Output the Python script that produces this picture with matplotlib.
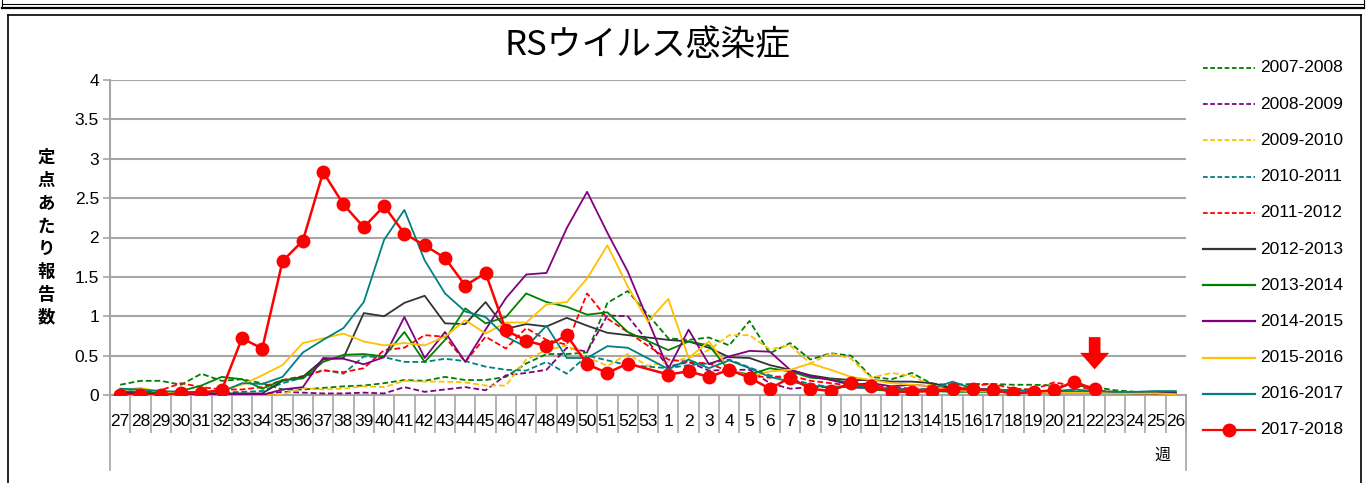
import numpy as np
import matplotlib
matplotlib.use("Agg")
import matplotlib.pyplot as plt
from matplotlib.lines import Line2D

plt.rcParams['font.family'] = ['Liberation Sans', 'Noto Sans CJK JP']

nan = np.nan
week_labels = ['27', '28', '29', '30', '31', '32', '33', '34', '35', '36', '37', '38', '39',
               '40', '41', '42', '43', '44', '45', '46', '47', '48', '49', '50', '51', '52', '53',
               '1', '2', '3', '4', '5', '6', '7', '8', '9', '10', '11', '12', '13', '14', '15',
               '16', '17', '18', '19', '20', '21', '22', '23', '24', '25', '26']

s2007 = [0.13, 0.18, 0.18, 0.13, 0.27, 0.18, 0.20, 0.15, 0.07, 0.07, 0.09, 0.11, 0.12, 0.15,
         0.19, 0.18, 0.23, 0.19, 0.19, 0.23, 0.40, 0.52, 0.52, 0.54, 1.17, 1.32, nan,
         0.72, 0.70, 0.73, 0.63, 0.94, 0.53, 0.66, 0.45, 0.53, 0.50, 0.23, 0.20, 0.28, 0.14,
         0.13, 0.14, 0.14, 0.13, 0.13, 0.12, 0.12, 0.10, 0.06, 0.04, 0.03, 0.03]
s2008 = [0.02, 0.02, 0.01, 0.01, 0.01, 0.01, 0.01, 0.01, 0.04, 0.03, 0.02, 0.02, 0.03, 0.02,
         0.10, 0.04, 0.07, 0.10, 0.06, 0.25, 0.28, 0.32, 0.60, 0.55, 1.01, 1.00, nan,
         0.36, 0.42, 0.31, 0.32, 0.32, 0.15, 0.08, 0.10, 0.10, 0.10, 0.08, 0.08, 0.07, 0.07,
         0.06, 0.07, 0.06, 0.05, 0.05, 0.05, 0.04, 0.04, 0.03, 0.02, 0.02, 0.02]
s2009 = [0.02, 0.02, 0.01, 0.01, 0.01, 0.01, 0.01, 0.00, 0.01, 0.09, 0.07, 0.08, 0.11, 0.10,
         0.18, 0.17, 0.17, 0.16, 0.12, 0.12, 0.45, 0.57, 0.63, 0.48, 0.37, 0.52, 0.37,
         0.42, 0.47, 0.57, 0.76, 0.76, 0.58, 0.63, 0.40, 0.53, 0.46, 0.22, 0.28, 0.24, 0.12,
         0.09, 0.07, 0.06, 0.05, 0.05, 0.05, 0.04, 0.04, 0.03, 0.02, 0.02, 0.01]
s2010 = [0.05, 0.04, 0.03, 0.03, 0.03, 0.03, 0.04, 0.05, 0.15, 0.22, 0.32, 0.27, 0.49, 0.48,
         0.42, 0.42, 0.46, 0.43, 0.36, 0.32, 0.31, 0.42, 0.27, 0.50, 0.44, 0.38, nan,
         0.34, 0.38, 0.40, 0.45, 0.35, 0.25, 0.20, 0.14, 0.10, 0.10, 0.08, 0.07, 0.06, 0.06,
         0.06, 0.06, 0.05, 0.05, 0.05, 0.05, 0.05, 0.04, 0.04, 0.04, 0.04, 0.04]
s2011 = [0.03, 0.03, 0.06, 0.15, 0.10, 0.07, 0.07, 0.10, 0.19, 0.24, 0.31, 0.29, 0.34, 0.57,
         0.60, 0.76, 0.74, 0.42, 0.74, 0.59, 0.85, 0.70, 0.64, 1.29, 0.97, 0.80, nan,
         0.45, 0.42, 0.40, 0.30, 0.25, 0.22, 0.25, 0.18, 0.15, 0.12, 0.12, 0.10, 0.08, 0.07,
         0.08, 0.12, 0.14, 0.08, 0.07, 0.16, 0.12, 0.06, 0.04, 0.03, 0.02, 0.02]
s2012 = [0.03, 0.03, 0.02, 0.02, 0.02, 0.02, 0.02, 0.02, 0.18, 0.23, 0.45, 0.47, 1.04, 1.00,
         1.17, 1.26, 0.91, 0.90, 1.18, 0.84, 0.90, 0.87, 0.98, 0.88, 0.79, 0.76, nan,
         0.70, 0.68, 0.60, 0.48, 0.47, 0.38, 0.32, 0.25, 0.21, 0.19, 0.19, 0.17, 0.17, 0.15,
         0.09, 0.08, 0.07, 0.06, 0.05, 0.05, 0.04, 0.04, 0.03, 0.03, 0.03, 0.03]
s2013 = [0.05, 0.04, 0.03, 0.05, 0.12, 0.23, 0.20, 0.08, 0.19, 0.21, 0.42, 0.51, 0.52, 0.49,
         0.80, 0.42, 0.70, 1.10, 0.91, 0.99, 1.29, 1.18, 1.12, 1.02, 1.05, 0.80, nan,
         0.57, 0.68, 0.63, 0.31, 0.26, 0.34, 0.30, 0.22, 0.20, 0.15, 0.07, 0.05, 0.05, 0.05,
         0.04, 0.04, 0.04, 0.03, 0.03, 0.03, 0.03, 0.03, 0.02, 0.02, 0.02, 0.02]
s2014 = [0.02, 0.02, 0.01, 0.01, 0.01, 0.01, 0.01, 0.00, 0.07, 0.10, 0.47, 0.46, 0.39, 0.48,
         0.99, 0.47, 0.80, 0.42, 0.83, 1.23, 1.53, 1.55, 2.12, 2.58, 2.06, 1.57, nan,
         0.33, 0.83, 0.39, 0.49, 0.56, 0.55, 0.32, 0.24, 0.19, 0.13, 0.15, 0.11, 0.13, 0.11,
         0.08, 0.07, 0.07, 0.05, 0.05, 0.04, 0.04, 0.03, 0.03, 0.02, 0.02, 0.02]
s2015 = [0.06, 0.09, 0.04, 0.03, 0.04, 0.06, 0.13, 0.25, 0.38, 0.66, 0.72, 0.78, 0.68, 0.63,
         0.66, 0.63, 0.74, 0.95, 0.78, 0.92, 0.92, 1.15, 1.18, 1.48, 1.90, 1.38, 0.93,
         1.22, 0.47, 0.68, 0.33, 0.23, 0.30, 0.32, 0.40, 0.32, 0.23, 0.19, 0.15, 0.13, 0.11,
         0.06, 0.05, 0.05, 0.04, 0.04, 0.03, 0.03, 0.03, 0.02, 0.02, 0.02, 0.01]
s2016 = [0.08, 0.07, 0.05, 0.04, 0.04, 0.04, 0.15, 0.14, 0.23, 0.54, 0.70, 0.85, 1.18, 1.97,
         2.35, 1.71, 1.29, 1.06, 0.99, 0.74, 0.61, 0.88, 0.47, 0.47, 0.62, 0.60, nan,
         0.33, 0.45, 0.34, 0.44, 0.34, 0.23, 0.17, 0.12, 0.10, 0.12, 0.10, 0.08, 0.06, 0.08,
         0.17, 0.08, 0.07, 0.06, 0.05, 0.05, 0.07, 0.05, 0.04, 0.04, 0.05, 0.05]
s2017 = [0.00, 0.00, 0.00, 0.02, 0.03, 0.06, 0.72, 0.59, 1.70, 1.96, 2.83, 2.42, 2.13, 2.40,
         2.05, 1.90, 1.74, 1.39, 1.55, 0.82, 0.69, 0.62, 0.76, 0.39, 0.28, 0.40, nan,
         0.26, 0.30, 0.23, 0.32, 0.22, 0.08, 0.22, 0.08, 0.05, 0.15, 0.11, 0.04, 0.04, 0.05,
         0.08, 0.07, 0.06, 0.02, 0.04, 0.06, 0.17, 0.07, nan, nan, nan, nan]

season_labels = ['2007-2008', '2008-2009', '2009-2010', '2010-2011', '2011-2012', '2012-2013',
                 '2013-2014', '2014-2015', '2015-2016', '2016-2017', '2017-2018']
series = [s2007, s2008, s2009, s2010, s2011, s2012, s2013, s2014, s2015, s2016, s2017]
colors = ['#008000', '#800080', '#FFC000', '#008080', '#FF0000', '#333333',
          '#008000', '#800080', '#FFC000', '#008080', '#FF0000']
dashed = [True] * 5 + [False] * 6
current_week_label = '22'

W, H = 1367, 483
fig = plt.figure(figsize=(W / 100, H / 100), dpi=100)

def fx(px):
    return px / W

def fy(py):
    return 1 - py / H

ax = fig.add_axes([fx(110), fy(395), fx(1186) - fx(110), fy(80) - fy(395)])
x = np.arange(len(week_labels))
grid_c = '#a6a6a6'

for lab, vals, col, dsh in zip(season_labels, series, colors, dashed):
    y = np.array(vals, dtype=float)
    m = ~np.isnan(y)
    if lab == '2017-2018':
        ax.plot(x[m], y[m], color=col, lw=1.8, marker='o', ms=9, zorder=5)
    elif dsh:
        ax.plot(x[m], y[m], color=col, lw=1.3, dashes=(3.2, 1.6), zorder=3)
    else:
        ax.plot(x[m], y[m], color=col, lw=1.3, zorder=4)

ax.set_xlim(-0.5, len(week_labels) - 0.5)
ax.set_ylim(0, 4)
yt = np.arange(0, 4.01, 0.5)
ax.set_yticks(yt)
ax.set_yticklabels([('%g' % v) for v in yt], fontsize=12.5)
ax.yaxis.grid(True, color=grid_c, lw=1.5, zorder=0)
ax.set_axisbelow(True)
ax.tick_params(axis='y', length=5, width=1.2, color=grid_c, pad=3)

ax.set_xticks(np.arange(-0.5, len(week_labels), 1))
ax.set_xticklabels([])
ax.set_xticks(x, minor=True)
ax.set_xticklabels(week_labels, minor=True, fontsize=12.5)
ax.tick_params(axis='x', which='major', length=27, width=1.2, color=grid_c)
ax.tick_params(axis='x', which='minor', length=0, pad=14)

for side in ['top', 'right']:
    ax.spines[side].set_visible(False)
for side in ['left', 'bottom']:
    ax.spines[side].set_color(grid_c)
    ax.spines[side].set_linewidth(1.5)

# arrow marking current week
wi = week_labels.index(current_week_label)
ax.annotate('', xy=(wi, 0.29), xytext=(wi, 0.77),
            arrowprops=dict(arrowstyle='simple,head_width=1.5,head_length=0.85,tail_width=0.6',
                            color='#FF0000', lw=0, mutation_scale=14), zorder=6)

# title and labels
fig.text(fx(647), fy(45), 'RSウイルス感染症', ha='center', va='center', fontsize=25,
         family=['Noto Sans CJK JP'])
ylab = '定点あたり報告数'
for k, ch in enumerate(ylab):
    fig.text(fx(46), fy(158 + k * 22.8), ch, ha='center', va='center', fontsize=12.5,
             fontweight='bold', family=['Noto Sans CJK JP'])
fig.text(fx(1162), fy(455), '週', ha='center', va='center', fontsize=11.5,
         family=['Noto Sans CJK JP'])

# legend (manual)
for k, (lab, col, dsh) in enumerate(zip(season_labels, colors, dashed)):
    yy = fy(68 + k * 36.2)
    if dsh:
        ln = Line2D([fx(1203), fx(1255)], [yy, yy], color=col, lw=1.3, dashes=(2.6, 1.4),
                    transform=fig.transFigure)
    else:
        ln = Line2D([fx(1203), fx(1255)], [yy, yy], color=col, lw=1.6, transform=fig.transFigure)
    fig.add_artist(ln)
    if lab == '2017-2018':
        fig.add_artist(Line2D([fx(1229)], [yy], color=col, marker='o', ms=9, lw=0,
                              transform=fig.transFigure))
    fig.text(fx(1260), yy, lab, ha='left', va='center', fontsize=12.5)

# frames
def fline(xs, ys, lw=1.0, color='black'):
    fig.add_artist(Line2D([fx(v) for v in xs], [fy(v) for v in ys], color=color, lw=lw,
                          transform=fig.transFigure))

fline([110, 110], [395, 470], lw=1.2, color=grid_c)
fline([1186, 1186], [395, 470], lw=1.2, color=grid_c)
fline([2, 1364], [4, 4], lw=0.8)
fline([2, 1364], [8, 8], lw=1.6)
fline([2, 2], [0, 8], lw=0.8)
fline([1364, 1364], [0, 8], lw=0.8)
fline([8, 1361], [15, 15], lw=1.2)
fline([8, 8], [15, 483], lw=1.2)
fline([1361, 1361], [15, 483], lw=1.2)

fig.savefig('out.png', dpi=100)
